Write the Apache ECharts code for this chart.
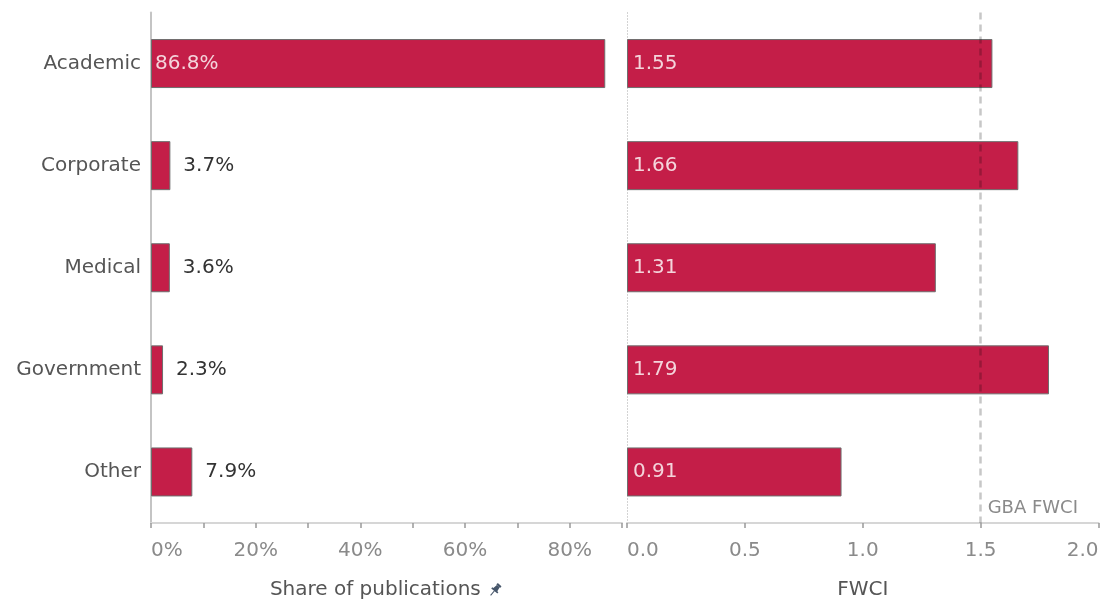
<!DOCTYPE html>
<html>
<head>
<meta charset="utf-8">
<script src="https://cdn.jsdelivr.net/npm/echarts@6/dist/echarts.min.js"></script>
<style>
html,body{margin:0;padding:0;background:#fff;}
#chart{width:1105px;height:605px;}
</style>
</head>
<body>
<div id="chart"></div>
<script>
const categories = ['Academic', 'Corporate', 'Medical', 'Government', 'Other'];
const sharePct = [86.8, 3.7, 3.6, 2.3, 7.9];
const fwci = [1.55, 1.66, 1.31, 1.79, 0.91];
const gbaFwci = 1.5;
const gbaLabel = 'GBA FWCI';
const shareTitle = 'Share of publications';
const fwciTitle = 'FWCI';

const FONT = 'DejaVu Sans';
const BAR = '#C41E48';
const INSIDE_TXT = '#F4D4DB';

const pinSvg = "<svg xmlns='http://www.w3.org/2000/svg' width='24' height='24' viewBox='0 0 24 24'>" +
  "<g transform='rotate(40 12 12)' fill='#46566a'><rect x='8' y='1.5' width='8' height='3' rx='1'/>" +
  "<path d='M9.2 4.5h5.6l1 7h2.2v2.4H6v-2.4h2.2z'/><rect x='11.2' y='13.5' width='1.6' height='9'/></g></svg>";
const pinUrl = 'data:image/svg+xml;charset=utf-8,' + encodeURIComponent(pinSvg);

const chart = echarts.init(document.getElementById('chart'), null, {renderer: 'canvas'});

const shareData = sharePct.map(v => ({
  value: v,
  label: v > 20
    ? {position: 'insideLeft', distance: 4, color: INSIDE_TXT}
    : {position: 'right', distance: 13, color: '#333'}
}));

const xCommon = {
  axisLine: {show: true, lineStyle: {color: '#d6d6d6', width: 2}},
  axisTick: {show: true, length: 5, lineStyle: {color: '#999', width: 1.5}},
  splitLine: {show: false},
  nameLocation: 'middle',
  nameGap: 57
};

chart.setOption({
  animation: false,
  textStyle: {fontFamily: FONT},
  grid: [
    {left: 151, top: 12.5, width: 471, height: 512},
    {left: 627, top: 12.5, width: 471.5, height: 512}
  ],
  xAxis: [
    Object.assign({}, xCommon, {
      gridIndex: 0, type: 'value', min: 0, max: 90, interval: 10,
      name: '{t|' + shareTitle + '} {p|}',
      nameTextStyle: {
        fontFamily: FONT, fontSize: 20, color: '#555',
        rich: {
          t: {fontFamily: FONT, fontSize: 20, color: '#555'},
          p: {width: 16, height: 16, backgroundColor: {image: pinUrl}}
        }
      },
      axisLabel: {
        interval: 1, margin: 18, fontFamily: FONT, fontSize: 20, color: '#8a8a8a',
        formatter: v => (v % 20 === 0 ? v + '%' : ''),
        alignMinLabel: 'left'
      }
    }),
    Object.assign({}, xCommon, {
      gridIndex: 1, type: 'value', min: 0, max: 2, interval: 0.5,
      name: fwciTitle,
      nameTextStyle: {fontFamily: FONT, fontSize: 20, color: '#555'},
      axisLabel: {
        margin: 18, fontFamily: FONT, fontSize: 20, color: '#8a8a8a',
        formatter: v => v.toFixed(1),
        alignMinLabel: 'left', alignMaxLabel: 'right'
      }
    })
  ],
  yAxis: [
    {
      gridIndex: 0, type: 'category', data: categories, inverse: true,
      axisLine: {show: true, lineStyle: {color: '#c4c4c4', width: 2}},
      axisTick: {show: false},
      axisLabel: {margin: 10, fontFamily: FONT, fontSize: 20, color: '#555'}
    },
    {
      gridIndex: 1, type: 'category', data: categories, inverse: true,
      axisLine: {show: true, lineStyle: {color: '#cfcfcf', width: 1, type: [1, 2]}},
      axisTick: {show: false},
      axisLabel: {show: false}
    }
  ],
  series: [
    {
      type: 'bar', xAxisIndex: 0, yAxisIndex: 0,
      data: shareData,
      barWidth: 49,
      itemStyle: {color: BAR, borderColor: '#6e6e6e', borderWidth: 1},
      label: {
        show: true, fontFamily: FONT, fontSize: 20,
        formatter: p => p.value.toFixed(1) + '%'
      }
    },
    {
      type: 'bar', xAxisIndex: 1, yAxisIndex: 1,
      data: fwci,
      barWidth: 49,
      itemStyle: {color: BAR, borderColor: '#6e6e6e', borderWidth: 1},
      label: {
        show: true, position: 'insideLeft', distance: 6,
        fontFamily: FONT, fontSize: 20, color: INSIDE_TXT,
        formatter: p => p.value.toFixed(2)
      },
      markLine: {
        silent: true, symbol: 'none', z: 10,
        lineStyle: {color: 'rgba(0,0,0,0.22)', width: 2.5, type: [7, 5]},
        label: {show: false},
        data: [{xAxis: gbaFwci}]
      },
      markPoint: {
        silent: true, symbol: 'rect', symbolSize: 0,
        data: [{coord: [gbaFwci, categories[categories.length - 1]]}],
        label: {
          show: true, position: 'right', offset: [2, 36],
          formatter: gbaLabel, fontFamily: FONT, fontSize: 18, color: '#8a8a8a'
        }
      }
    }
  ]
});
</script>
</body>
</html>
